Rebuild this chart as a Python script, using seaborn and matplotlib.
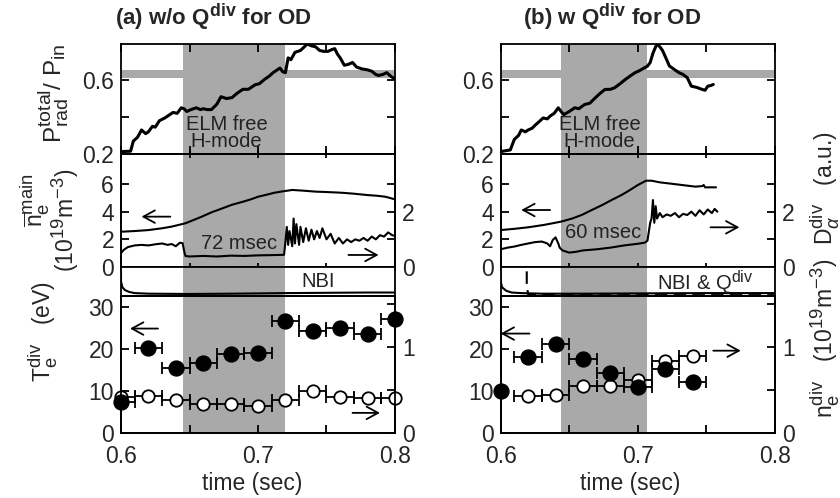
import numpy as np
import pandas as pd
import seaborn as sns
import matplotlib
matplotlib.use("Agg")
import matplotlib._mathtext as mathtext_internals
from matplotlib import pyplot as plt

# ---- data ----
# (a) w/o Qdiv
prad_t_a = [0.600, 0.607, 0.609, 0.612, 0.615, 0.618, 0.620, 0.623, 0.625, 0.628, 0.632, 0.635, 0.638,
            0.641, 0.644, 0.646, 0.648, 0.651, 0.655, 0.658, 0.660, 0.663, 0.666, 0.670, 0.673, 0.677,
            0.681, 0.685, 0.689, 0.693, 0.698, 0.701, 0.705, 0.708, 0.711, 0.714, 0.716, 0.718, 0.720,
            0.722, 0.724, 0.727, 0.731, 0.736, 0.739, 0.742, 0.745, 0.748, 0.751, 0.754, 0.756, 0.758,
            0.760, 0.763, 0.766, 0.769, 0.772, 0.776, 0.780, 0.783, 0.786, 0.788, 0.791, 0.794, 0.797, 0.800]
prad_v_a = [0.213, 0.215, 0.27, 0.29, 0.33, 0.31, 0.32, 0.35, 0.345, 0.38, 0.395, 0.41, 0.425,
            0.42, 0.45, 0.445, 0.43, 0.44, 0.45, 0.44, 0.445, 0.44, 0.44, 0.47, 0.51, 0.50,
            0.505, 0.53, 0.55, 0.55, 0.575, 0.58, 0.605, 0.62, 0.64, 0.655, 0.665, 0.645, 0.64,
            0.72, 0.71, 0.75, 0.76, 0.795, 0.785, 0.78, 0.76, 0.755, 0.755, 0.765, 0.77, 0.74,
            0.72, 0.68, 0.685, 0.695, 0.67, 0.66, 0.655, 0.648, 0.63, 0.625, 0.63, 0.64, 0.62, 0.605]
ne_t_a = [0.600, 0.610, 0.620, 0.630, 0.637, 0.647, 0.653, 0.659, 0.666, 0.674, 0.681, 0.689, 0.695,
          0.700, 0.706, 0.712, 0.718, 0.725, 0.733, 0.742, 0.750, 0.761, 0.770, 0.780, 0.787, 0.793, 0.800]
ne_v_a = [2.55, 2.6, 2.67, 2.8, 2.92, 3.16, 3.4, 3.64, 3.95, 4.24, 4.5, 4.72, 4.9,
          5.08, 5.22, 5.37, 5.47, 5.57, 5.52, 5.45, 5.42, 5.37, 5.3, 5.2, 5.15, 5.08, 4.89]
da_t_a = [0.600, 0.602, 0.605, 0.610, 0.615, 0.620, 0.625, 0.630, 0.634, 0.637, 0.640, 0.643, 0.645,
          0.646, 0.647, 0.650, 0.660, 0.670, 0.680, 0.690, 0.700, 0.710, 0.719, 0.720, 0.721, 0.722,
          0.723, 0.725, 0.726, 0.727, 0.728, 0.730, 0.731, 0.733, 0.735, 0.737, 0.739, 0.741, 0.743,
          0.745, 0.747, 0.750, 0.753, 0.756, 0.759, 0.762, 0.765, 0.768, 0.771, 0.774, 0.777, 0.780,
          0.783, 0.786, 0.789, 0.792, 0.795, 0.798, 0.800]
da_v_a = [0.50, 0.62, 0.72, 0.78, 0.80, 0.78, 0.82, 0.85, 0.80, 0.83, 0.75, 0.88, 0.86,
          0.60, 0.40, 0.38, 0.40, 0.38, 0.41, 0.40, 0.42, 0.43, 0.44, 0.90, 1.45, 0.80,
          1.30, 0.75, 1.75, 0.85, 1.55, 0.80, 1.45, 0.90, 1.40, 0.95, 1.35, 1.00, 1.30,
          1.05, 1.40, 1.00, 1.20, 0.85, 1.05, 0.85, 1.00, 0.90, 1.00, 0.95, 1.05, 0.95,
          1.10, 1.00, 1.15, 1.10, 1.25, 1.15, 1.12]
nbi_t_a = [0.600, 0.600, 0.601, 0.603, 0.606, 0.610, 0.620, 0.650, 0.680, 0.720, 0.750, 0.780, 0.800]
nbi_v_a = [0.85, 0.50, 0.30, 0.20, 0.14, 0.10, 0.08, 0.07, 0.08, 0.10, 0.11, 0.12, 0.12]
te_t_a = [0.60, 0.62, 0.64, 0.66, 0.68, 0.70, 0.72, 0.74, 0.76, 0.78, 0.80]
te_v_a = [7.2, 20.2, 15.5, 16.7, 18.75, 19.1, 26.7, 24.4, 25.1, 23.5, 27.1]
te_err_a = [0.01] * 11
nd_t_a = [0.60, 0.62, 0.64, 0.66, 0.68, 0.70, 0.72, 0.74, 0.76, 0.78, 0.80]
nd_v_a = [0.42, 0.43, 0.38, 0.33, 0.33, 0.31, 0.38, 0.48, 0.42, 0.40, 0.40]

# (b) w Qdiv
prad_t_b = [0.600, 0.607, 0.610, 0.613, 0.615, 0.618, 0.620, 0.623, 0.625, 0.628, 0.631, 0.634, 0.636,
            0.639, 0.642, 0.644, 0.646, 0.650, 0.654, 0.657, 0.661, 0.665, 0.669, 0.672, 0.676, 0.680,
            0.683, 0.687, 0.691, 0.695, 0.698, 0.701, 0.705, 0.707, 0.709, 0.711, 0.713, 0.714, 0.716,
            0.718, 0.721, 0.723, 0.727, 0.730, 0.733, 0.736, 0.739, 0.743, 0.747, 0.749, 0.751, 0.753, 0.755]
prad_v_b = [0.213, 0.222, 0.28, 0.30, 0.33, 0.32, 0.33, 0.34, 0.355, 0.375, 0.395, 0.39, 0.405,
            0.42, 0.45, 0.43, 0.413, 0.43, 0.45, 0.445, 0.467, 0.475, 0.504, 0.525, 0.549, 0.55,
            0.558, 0.58, 0.604, 0.625, 0.64, 0.65, 0.667, 0.675, 0.695, 0.745, 0.78, 0.795, 0.78,
            0.76, 0.71, 0.676, 0.655, 0.64, 0.63, 0.613, 0.567, 0.56, 0.549, 0.545, 0.567, 0.57, 0.576]
ne_t_b = [0.600, 0.610, 0.620, 0.632, 0.644, 0.652, 0.659, 0.666, 0.674, 0.681, 0.688, 0.694, 0.700,
          0.706, 0.710, 0.716, 0.722, 0.732, 0.742, 0.747, 0.748, 0.749, 0.757]
ne_v_b = [2.67, 2.76, 2.87, 3.05, 3.28, 3.5, 3.76, 4.1, 4.48, 4.85, 5.2, 5.55, 5.93,
          6.24, 6.24, 6.12, 6.05, 5.93, 5.81, 5.85, 5.93, 5.76, 5.76]
da_t_b = [0.600, 0.605, 0.610, 0.615, 0.620, 0.625, 0.630, 0.634, 0.636, 0.638, 0.640, 0.642, 0.643,
          0.645, 0.650, 0.655, 0.660, 0.670, 0.680, 0.690, 0.700, 0.705, 0.707, 0.709, 0.710, 0.711,
          0.712, 0.713, 0.714, 0.716, 0.718, 0.721, 0.724, 0.727, 0.730, 0.733, 0.736, 0.739, 0.742,
          0.745, 0.748, 0.751, 0.754, 0.756, 0.758]
da_v_b = [0.64, 0.70, 0.74, 0.80, 0.85, 0.90, 0.92, 0.85, 0.75, 0.98, 1.07, 0.85, 0.70,
          0.60, 0.52, 0.55, 0.60, 0.64, 0.70, 0.78, 0.84, 0.88, 0.95, 1.60, 1.75, 2.42,
          1.60, 2.20, 1.75, 1.95, 1.80, 1.90, 1.85, 1.95, 1.80, 1.92, 1.88, 2.00, 1.85,
          2.05, 1.90, 2.08, 1.95, 2.10, 2.00]
nbi_t_b = [0.600, 0.600, 0.601, 0.604, 0.608, 0.615, 0.630, 0.660, 0.700, 0.750, 0.800]
nbi_v_b = [0.85, 0.50, 0.30, 0.18, 0.12, 0.10, 0.08, 0.08, 0.09, 0.10, 0.10]
qdiv_t_b = [0.619, 0.619, 0.620, 0.640, 0.700, 0.800]
qdiv_v_b = [0.85, 0.40, 0.05, 0.03, 0.03, 0.03]
te_t_b = [0.60, 0.62, 0.64, 0.66, 0.68, 0.70, 0.72, 0.74]
te_v_b = [9.95, 18.2, 21.15, 17.55, 14.2, 11.0, 15.2, 12.2]
te_err_b = [0.0, 0.01, 0.01, 0.01, 0.01, 0.01, 0.01, 0.01]
nd_t_b = [0.62, 0.64, 0.66, 0.68, 0.70, 0.72, 0.74]
nd_v_b = [0.43, 0.44, 0.54, 0.54, 0.61, 0.83, 0.89]

shade_a = (0.645, 0.720)
shade_b = (0.644, 0.707)
band = (0.61, 0.655)

# ---- style ----
sns.set_style("ticks")
plt.rcParams["font.family"] = ["Liberation Sans", "DejaVu Sans"]
plt.rcParams["mathtext.fontset"] = "custom"
plt.rcParams["mathtext.rm"] = "Liberation Sans"
plt.rcParams["mathtext.it"] = "Liberation Sans:italic"
plt.rcParams["mathtext.bf"] = "Liberation Sans:bold"
plt.rcParams["axes.linewidth"] = 1.3
plt.rcParams["axes.edgecolor"] = "black"
# the original uses larger sub/superscripts than mathtext's default 0.7
mathtext_internals.SHRINK_FACTOR = 0.8

GREY = "#a9a9a9"
FS = 16.5
W, H = 840, 498


def rect(x0, x1, y0, y1):
    return [x0 / W, 1 - y1 / H, (x1 - x0) / W, (y1 - y0) / H]


def tk(ax, pad=5, **kw):
    ax.tick_params(length=6, width=1.3, labelsize=FS, color="black", pad=pad, **kw)


def arrow(ax, tail, head, y):
    ax.annotate("", xy=(head, y), xytext=(tail, y),
                arrowprops=dict(arrowstyle="->,head_length=0.55,head_width=0.3", lw=1.3,
                                color="black", shrinkA=0, shrinkB=0, mutation_scale=15))


fig = plt.figure(figsize=(8.4, 4.98), dpi=100)


def column(x0, x1, shade, prad_t, prad_v, ne_t, ne_v, da_t, da_v, nbi_t, nbi_v,
           te_t, te_v, te_err, nd_t, nd_v):
    xt = [0.6, 0.65, 0.7, 0.75, 0.8]

    # top: radiated power fraction
    ax1 = fig.add_axes(rect(x0, x1, 44, 154))
    ax1.axvspan(*shade, color=GREY, lw=0, zorder=0)
    ax1.axhspan(*band, color=GREY, lw=0, zorder=0)
    sns.lineplot(x=prad_t, y=prad_v, ax=ax1, color="black", lw=2.2, estimator=None, sort=False)
    ax1.set_xlim(0.6, 0.8)
    ax1.set_ylim(0.2, 0.795)
    ax1.set_xticks(xt)
    ax1.set_yticks([0.2, 0.4, 0.6])
    ax1.set_yticklabels(["0.2", "", "0.6"])
    tk(ax1, axis="x", direction="in", top=True, bottom=True, labelbottom=False)
    tk(ax1, axis="y", direction="in", left=True, right=True)

    # density and D alpha
    ax2 = fig.add_axes(rect(x0, x1, 154, 267))
    ax2.axvspan(*shade, color=GREY, lw=0, zorder=0)
    sns.lineplot(x=ne_t, y=ne_v, ax=ax2, color="black", lw=1.5, estimator=None, sort=False)
    ax2.set_xlim(0.6, 0.8)
    ax2.set_ylim(0, 8.17)
    ax2.set_xticks(xt)
    ax2.set_yticks([0, 2, 4, 6])
    tk(ax2, axis="x", direction="inout", top=True, bottom=True, labelbottom=False, labeltop=False)
    tk(ax2, axis="y", direction="in", left=True, right=False)
    ax2r = ax2.twinx()
    sns.lineplot(x=da_t, y=da_v, ax=ax2r, color="black", lw=1.5, estimator=None, sort=False)
    ax2r.set_ylim(0, 8.17 / 2)
    ax2r.set_yticks([0, 1, 2, 3])
    ax2r.set_yticklabels(["0", "", "2", ""])
    tk(ax2r, axis="y", direction="in")

    # NBI strip
    ax3 = fig.add_axes(rect(x0, x1, 267, 296))
    ax3.axvspan(*shade, color=GREY, lw=0, zorder=0)
    sns.lineplot(x=nbi_t, y=nbi_v, ax=ax3, color="black", lw=1.5, estimator=None, sort=False)
    ax3.set_xlim(0.6, 0.8)
    ax3.set_ylim(0, 1)
    ax3.set_xticks([])
    ax3.set_yticks([])

    # Te (left) and ne div (right)
    ax4 = fig.add_axes(rect(x0, x1, 296, 432.5))
    ax4r = ax4.twinx()
    ax4.set_zorder(ax4r.get_zorder() + 1)
    ax4.patch.set_visible(False)
    ax4r.axvspan(*shade, color=GREY, lw=0, zorder=0)
    ax4r.errorbar(nd_t, nd_v, xerr=0.01, fmt="none", ecolor="black", elinewidth=1.3,
                  capsize=4, capthick=1.3)
    sns.scatterplot(x=nd_t, y=nd_v, ax=ax4r, s=80, facecolor="white", edgecolor="black",
                    linewidth=1.3, clip_on=False, zorder=3)
    ax4.errorbar(te_t, te_v, xerr=te_err, fmt="none", ecolor="black", elinewidth=1.3,
                 capsize=4, capthick=1.3)
    sns.scatterplot(x=te_t, y=te_v, ax=ax4, s=115, color="black", edgecolor="black",
                    linewidth=1, clip_on=False, zorder=4)
    ax4.set_xlim(0.6, 0.8)
    ax4.set_ylim(0, 32.7)
    ax4r.set_ylim(0, 32.7 / 20.5)
    ax4.set_xticks(xt)
    ax4.set_xticklabels(["0.6", "", "0.7", "", "0.8"])
    ax4.set_yticks([0, 10, 20, 30])
    ax4r.set_yticks([0, 0.5, 1, 1.5])
    ax4r.set_yticklabels(["0", "", "1", ""])
    tk(ax4, pad=9, axis="x", direction="in", top=False, bottom=True)
    tk(ax4, axis="y", direction="in", left=True, right=False)
    tk(ax4r, axis="y", direction="in")
    for a in (ax1, ax2, ax2r, ax3, ax4, ax4r):
        a.set_xlabel("")
        a.set_ylabel("")
    return ax1, ax2, ax2r, ax3, ax4, ax4r


A = column(121, 395, shade_a, prad_t_a, prad_v_a, ne_t_a, ne_v_a, da_t_a, da_v_a,
           nbi_t_a, nbi_v_a, te_t_a, te_v_a, te_err_a, nd_t_a, nd_v_a)
B = column(500.7, 775, shade_b, prad_t_b, prad_v_b, ne_t_b, ne_v_b, da_t_b, da_v_b,
           nbi_t_b, nbi_v_b, te_t_b, te_v_b, te_err_b, nd_t_b, nd_v_b)

# Qdiv trace in (b) NBI strip
sns.lineplot(x=qdiv_t_b, y=qdiv_v_b, ax=B[3], color="black", lw=1.5, ls=(0, (6, 3)),
             estimator=None, sort=False)

# in-panel texts
for ax, tx in ((A[0], 0.677), (B[0], 0.672)):
    ax.text(tx, 0.315, "ELM free\nH-mode", ha="center", va="center", fontsize=14.5,
            linespacing=0.85, color="#222222")
A[1].text(0.686, 1.71, "72 msec", ha="center", va="center", fontsize=14.5, color="#222222")
B[1].text(0.675, 2.48, "60 msec", ha="center", va="center", fontsize=14.5, color="#222222")
A[3].text(0.744, 0.30, "NBI", ha="center", va="baseline", fontsize=14.5, color="#222222")
B[3].text(0.749, 0.20, r"NBI & Q$^{\mathrm{div}}$", ha="center", va="baseline", fontsize=14.5,
          color="#222222")

# arrows marking which axis a trace belongs to
arrow(A[1], 0.636, 0.615, 3.64)
arrow(A[1], 0.766, 0.788, 0.87)
arrow(B[1], 0.636, 0.615, 4.12)
arrow(B[1], 0.753, 0.774, 2.87)
arrow(A[4], 0.627, 0.6066, 24.9)
arrow(A[4], 0.769, 0.789, 4.7)
arrow(B[4], 0.621, 0.600, 23.7)
arrow(B[4], 0.755, 0.775, 19.6)

# titles and axis labels
fig.text(213 / W, 1 - 17 / H, r"(a) w/o Q$^{\mathbf{div}}$ for OD", ha="center", va="center",
         fontsize=16, fontweight="bold")
fig.text(612 / W, 1 - 17 / H, r"(b) w Q$^{\mathbf{div}}$ for OD", ha="center", va="center",
         fontsize=16, fontweight="bold")
for xc in (252, 630):
    fig.text(xc / W, 1 - 483 / H, "time (sec)", ha="center", va="center", fontsize=FS)
fig.text(54 / W, 1 - 93 / H, r"P$_{\mathrm{rad}}^{\mathrm{total}}$/ P$_{\mathrm{in}}$",
         rotation=90, ha="center", va="center", fontsize=17.5)
fig.text(34 / W, 1 - 200 / H, r"$\overline{\mathrm{n}}_{\mathrm{e}}^{\mathrm{main}}$",
         rotation=90, ha="center", va="center", fontsize=FS)
fig.text(65 / W, 1 - 220 / H, r"(10$^{19}$m$^{-3}$)",
         rotation=90, ha="center", va="center", fontsize=FS)
fig.text(42 / W, 1 - 331 / H, r"T$_{\mathrm{e}}^{\mathrm{div}}$   (eV)",
         rotation=90, ha="center", va="center", fontsize=FS)
fig.text(824 / W, 1 - 188 / H, r"D$_{\alpha}^{\mathrm{div}}$   (a.u.)",
         rotation=90, ha="center", va="center", fontsize=FS)
fig.text(824 / W, 1 - 338 / H, r"n$_{\mathrm{e}}^{\mathrm{div}}$   (10$^{19}$m$^{-3}$)",
         rotation=90, ha="center", va="center", fontsize=FS)

fig.savefig("out.png", dpi=100)
